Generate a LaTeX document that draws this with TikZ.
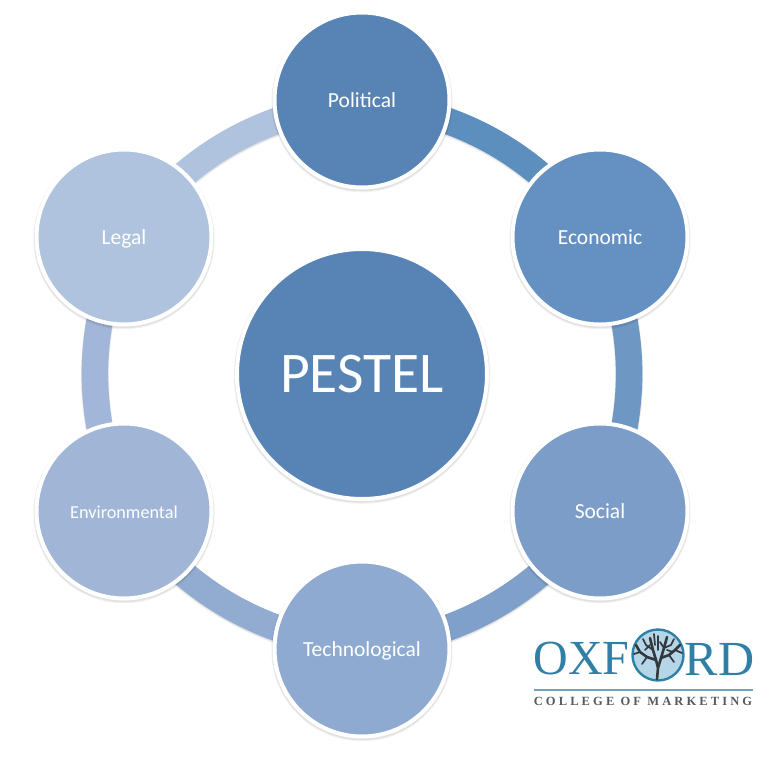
\documentclass[tikz,border=0pt]{standalone}
\usepackage{fontspec}
\setmainfont{Carlito}
\newfontfamily\logofont{Liberation Serif}
\usetikzlibrary{backgrounds}
\definecolor{cP}{HTML}{5884B5}
\definecolor{cE}{HTML}{6591C2}
\definecolor{cS}{HTML}{7B9DC8}
\definecolor{cT}{HTML}{8FAAD0}
\definecolor{cV}{HTML}{A1B6D7}
\definecolor{cL}{HTML}{B0C3DE}
\definecolor{aP}{HTML}{5C8FBE}
\definecolor{aE}{HTML}{6E97C4}
\definecolor{aS}{HTML}{7FA0CA}
\definecolor{aT}{HTML}{91ABD1}
\definecolor{aV}{HTML}{A1B6D8}
\definecolor{aL}{HTML}{AFC2DE}
\definecolor{logoblue}{HTML}{2F7FA6}
\definecolor{logosky}{HTML}{B5D6E6}
\definecolor{logodark}{HTML}{33383C}
\definecolor{logogray}{HTML}{555A5E}
\tikzset{
  x=1pt,y=-1pt,
  halo/.style={preaction={draw=black,draw opacity=.05,line width=6.4pt,transform canvas={yshift=-1.6pt}},
               preaction={draw=black,draw opacity=.07,line width=5pt,transform canvas={yshift=-1.2pt}}},
  hubbase/.style={circle,draw=white,line width=4pt,inner sep=0pt,text=white,halo},
  petal/.style={hubbase,minimum size=175pt,text height=18.6pt,text depth=3.6pt,
    font=\fontsize{21.5}{24}\selectfont},
  hub/.style={hubbase,minimum size=250pt,font=\fontsize{57.5}{60}\selectfont},
  ringseg/.style={line width=26.5pt,line cap=butt,
    preaction={draw=black,draw opacity=.05,line width=28pt,transform canvas={yshift=-1.4pt}},
    preaction={draw=black,draw opacity=.07,line width=27pt,transform canvas={yshift=-1pt}}},
  branch/.style={draw=logodark,line cap=round,line join=round},
}
\begin{document}
\begin{tikzpicture}
\useasboundingbox (0,0) rectangle (772,766);
\node[hub,fill=cP] (hubc) at (362,374) {PESTEL};
\node[petal,fill=cP] (political) at (362,100) {Political};
\node[petal,fill=cE] (economic) at (600,237) {Economic};
\node[petal,fill=cS] (social) at (600,511) {Social};
\node[petal,fill=cT] (techno) at (362,649) {Technological};
\node[petal,fill=cV,font=\fontsize{18.2}{20}\selectfont] (environ) at (124,511) {Environmental};
\node[petal,fill=cL] (legal) at (124,237) {Legal};
\begin{scope}[on background layer]
\draw[ringseg,draw=aP] (political.center) to[bend left=21.3] (economic.center);
\draw[ringseg,draw=aE] (economic.center) to[bend left=21.3] (social.center);
\draw[ringseg,draw=aS] (social.center) to[bend left=21.3] (techno.center);
\draw[ringseg,draw=aT] (techno.center) to[bend left=21.3] (environ.center);
\draw[ringseg,draw=aV] (environ.center) to[bend left=21.3] (legal.center);
\draw[ringseg,draw=aL] (legal.center) to[bend left=21.3] (political.center);
\end{scope}
% logo
\node[text=logoblue,font=\logofont\fontsize{49}{49}\selectfont,inner sep=0pt,xscale=.98] (oxf) at (581.5,659) {OXF};
\node[text=logoblue,font=\logofont\fontsize{49}{49}\selectfont,inner sep=0pt,xscale=1.02] (rd) at (719.5,659) {RD};
\fill[logosky] (658,655) circle (25.5);
\draw[logoblue,line width=2.4pt] (658,655) circle (25.5);
\path[branch,line width=2.6pt]
  (657,679) -- (658,668) -- (656,660) -- (653,650) -- (650,638)
  (658,668) -- (661,658) -- (664,648) -- (667,637)
  (656,660) -- (647,657) -- (640,652) -- (636,645)
  (661,658) -- (669,655) -- (675,650) -- (680,645);
\path[branch,line width=1.7pt]
  (653,650) -- (646,645) -- (643,639)
  (664,648) -- (671,645) -- (674,639)
  (658,650) -- (658,636)
  (640,652) -- (634,654)
  (647,657) -- (642,664)
  (669,655) -- (674,662)
  (675,650) -- (682,653)
  (655,645) -- (654,634)
  (664,648) -- (660,642)
  (650,645) -- (645,650)
  (667,650) -- (673,652);
\draw[logoblue!70,line width=1.6pt] (534,690) -- (753,690);
\node[text=logogray,font=\logofont\bfseries\fontsize{12.5}{13}\selectfont,inner sep=0pt] (college) at (643,701) {\addfontfeature{LetterSpace=25}COLLEGE OF MARKETING};
\end{tikzpicture}
\end{document}
